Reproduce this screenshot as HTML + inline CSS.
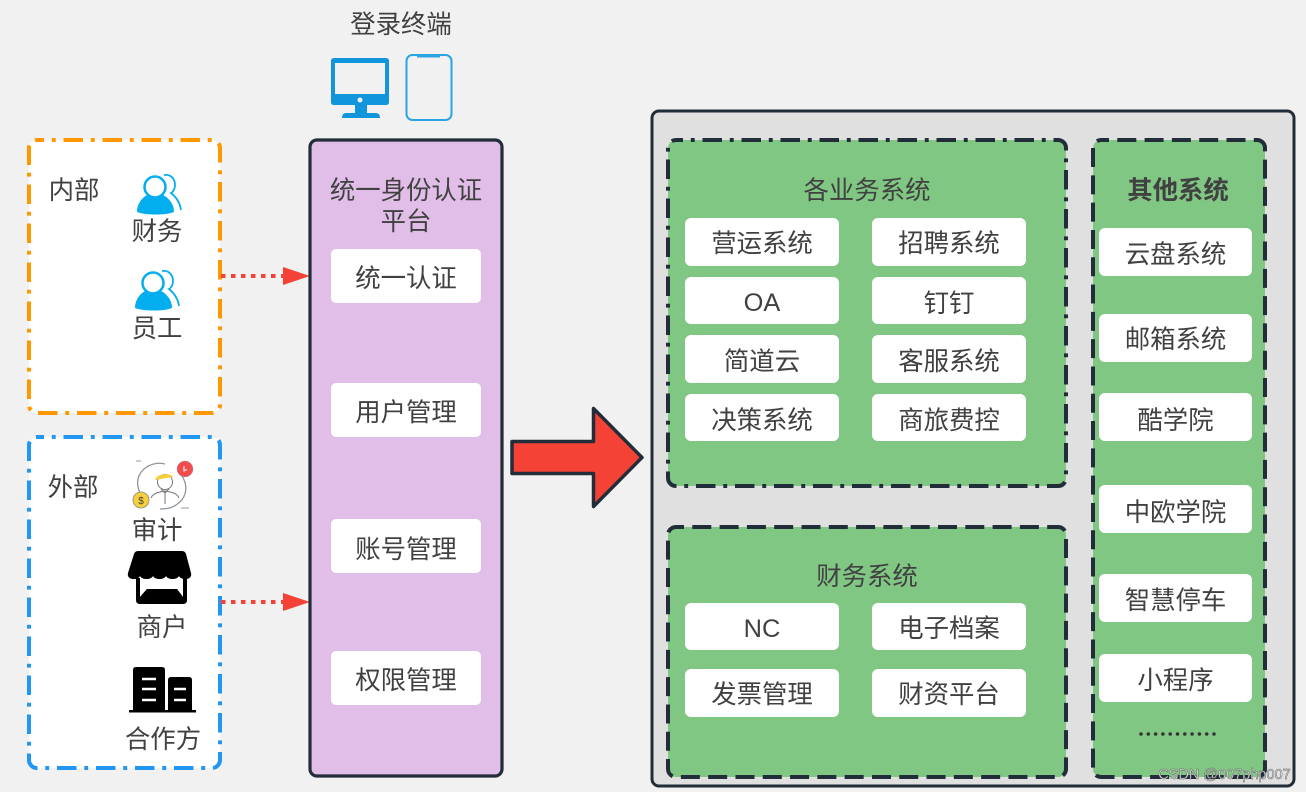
<!DOCTYPE html>
<html lang="zh"><head><meta charset="utf-8"><style>
html,body{margin:0;padding:0;background:#f1f1f1;width:1306px;height:792px;overflow:hidden}
svg{display:block}
text{font-family:"Liberation Sans","Noto Sans CJK SC",sans-serif;font-size:25.4px;fill:#414141;text-anchor:middle}
.c{fill:#fff;stroke:none}
.d{stroke-dasharray:19.500 7.800 3.900 7.800;stroke-dashoffset:12.500;stroke-width:4}
.e{stroke-dasharray:19 8.300;stroke-dashoffset:11;stroke-width:4}
</style></head><body>
<svg width="1306" height="792" viewBox="0 0 1306 792" xmlns="http://www.w3.org/2000/svg">
<rect width="1306" height="792" fill="#f1f1f1"/>
<!-- left groups -->
<rect x="29" y="140" width="191" height="273" rx="8" fill="#fff" stroke="#ff9800" class="d"/>
<rect x="29" y="437" width="191" height="331" rx="8" fill="#fff" stroke="#2196f3" class="d"/>
<text x="74" y="199">内部</text>
<text x="73" y="496">外部</text>
<!-- person icons -->
<g>
<path d="M137 212c0-11 9-19 18-19s19 8 19 19c-5 2-11 2.500-18 2.500s-14-.5-19-2.500z" fill="#03aeef"/>
<circle cx="155" cy="187" r="10.500" fill="#fff" stroke="#03aeef" stroke-width="2.500"/>
<path d="M164 175c8-1 11 5 11 10 0 4-2 7-4 8 5 4 9 10 10 17" fill="none" stroke="#03aeef" stroke-width="1.800"/>
</g>
<g transform="translate(-2 96)">
<path d="M137 212c0-11 9-19 18-19s19 8 19 19c-5 2-11 2.500-18 2.500s-14-.5-19-2.500z" fill="#03aeef"/>
<circle cx="155" cy="187" r="10.500" fill="#fff" stroke="#03aeef" stroke-width="2.500"/>
<path d="M164 175c8-1 11 5 11 10 0 4-2 7-4 8 5 4 9 10 10 17" fill="none" stroke="#03aeef" stroke-width="1.800"/>
</g>
<text x="157" y="240">财务</text>
<text x="157" y="337">员工</text>
<!-- audit icon -->
<path d="M148 502c-12-9-14-24-4-33 6-5 14-7 21-5M182 476c7 11 4 23-6 29-4 3-10 4-16 4" fill="none" stroke="#8f989d" stroke-width="1.300"/>
<circle cx="165" cy="482" r="7.500" fill="#fff" stroke="#777" stroke-width="1"/>
<path d="M155 480c1-6 15-8 18-3z" fill="#f5cf3c"/>
<path d="M151 498c2-5 8-6 14-7 6 1 12 2 14 7M165 491v13M161 489l4 4 4-4" fill="none" stroke="#777" stroke-width="1"/>
<circle cx="141" cy="500" r="8" fill="#f5cf3c" stroke="#888" stroke-width=".8"/>
<text x="141" y="504" style="font-size:10px;fill:#444">$</text>
<circle cx="185" cy="469" r="8" fill="#f44c4c" stroke="#999" stroke-width=".5"/>
<path d="M184 466v5l3-1.500" stroke="#fff" fill="none"/>
<path d="M136 461h5M181 508h8" stroke="#999"/>
<text x="157" y="539">审计</text>
<!-- shop icon -->
<path d="M136 578h51v22q0 4-4 4h-43q-4 0-4-4z" fill="#000"/>
<path d="M140 576h43v21l-6-8h-30l-7 8z" fill="#fff"/>
<path d="M147 589h30l6 8h-43z" fill="#000"/>
<path d="M141 551h41q3 0 4 3l5 19c1 4-2 6-5 6-4 0-6-1-7-3-2 4-11 4-13 0-2 4-11 4-13 0-2 4-11 4-13 0-1 2-3 3-7 3-3 0-6-2-5-6l6-19q1-3 4-3z" fill="#000"/>
<text x="162" y="636">商户</text>
<!-- partner icon -->
<path d="M133 670q0-3 3-3h26q3 0 3 3v40h3v-30q0-3 3-3h18q3 0 3 3v30h4v2.500h-67v-2.500h4z" fill="#000"/>
<path d="M142 679h14M142 689h14M142 700h14M174 689h12M174 700h12" stroke="#fff" stroke-width="2.500"/>
<text x="163" y="748">合作方</text>
<!-- dotted arrows -->
<path d="M221 276h66" stroke="#f44336" stroke-width="4" stroke-dasharray="4.500 5.500" fill="none"/>
<path d="M283 267l27 9-27 9z" fill="#f44336"/>
<path d="M221 602h66" stroke="#f44336" stroke-width="4" stroke-dasharray="4.500 5.500" fill="none"/>
<path d="M283 593l27 9-27 9z" fill="#f44336"/>
<!-- terminals -->
<text x="401" y="33">登录终端</text>
<path d="M334 58h52q3 0 3 3v41q0 3-3 3h-19v8h9q4 0 4 5h-38q0-5 4-5h9v-8h-21q-3 0-3-3v-41q0-3 3-3z" fill="#1296db"/>
<rect x="335" y="63" width="50" height="31" fill="#f1f1f1"/>
<circle cx="360" cy="100" r="2.500" fill="#f1f1f1"/>
<rect x="406.500" y="55" width="45" height="65" rx="6" fill="none" stroke="#29a5e3" stroke-width="2"/>
<path d="M417 56h23v1.500h-23z" fill="#29a5e3"/>
<!-- purple -->
<rect x="310" y="140" width="192" height="636" rx="7" fill="#e1bee7" stroke="#212d38" stroke-width="3.200"/>
<text x="406" y="199">统一身份认证</text>
<text x="406" y="230">平台</text>
<rect class="c" x="331" y="249" width="150" height="54" rx="5"/><text x="406" y="287">统一认证</text>
<rect class="c" x="331" y="383" width="150" height="54" rx="5"/><text x="406" y="421">用户管理</text>
<rect class="c" x="331" y="519" width="150" height="54" rx="5"/><text x="406" y="558">账号管理</text>
<rect class="c" x="331" y="651" width="150" height="54" rx="5"/><text x="406" y="689">权限管理</text>
<!-- big arrow -->
<path d="M512 441.500h81.500v-33l48.500 49-48.500 49v-33h-81.500z" fill="#f44336" stroke="#212d38" stroke-width="3.500" stroke-linejoin="round"/>
<!-- outer -->
<rect x="652" y="111" width="642" height="675" rx="7" fill="#e0e0e0" stroke="#212d38" stroke-width="3"/>
<rect x="668" y="140" width="398" height="346" rx="8" fill="#81c784" stroke="#212d38" class="d"/>
<rect x="668" y="527" width="398" height="250" rx="8" fill="#81c784" stroke="#212d38" class="e"/>
<rect x="1093" y="140" width="172" height="637" rx="8" fill="#81c784" stroke="#212d38" class="e"/>
<text x="867" y="199">各业务系统</text>
<text x="867" y="585">财务系统</text>
<text x="1178" y="199" style="font-weight:700">其他系统</text>
<!-- business -->
<rect class="c" x="685" y="218" width="154" height="48" rx="6"/><text x="762" y="252">营运系统</text>
<rect class="c" x="872" y="218" width="154" height="48" rx="6"/><text x="949" y="252">招聘系统</text>
<rect class="c" x="685" y="277" width="154" height="47" rx="6"/><text x="762" y="311">OA</text>
<rect class="c" x="872" y="277" width="154" height="47" rx="6"/><text x="949" y="312">钉钉</text>
<rect class="c" x="685" y="335" width="154" height="48" rx="6"/><text x="762" y="370">简道云</text>
<rect class="c" x="872" y="335" width="154" height="48" rx="6"/><text x="949" y="370">客服系统</text>
<rect class="c" x="685" y="394" width="154" height="47" rx="6"/><text x="762" y="429">决策系统</text>
<rect class="c" x="872" y="394" width="154" height="47" rx="6"/><text x="949" y="429">商旅费控</text>
<!-- finance -->
<rect class="c" x="685" y="603" width="154" height="47" rx="6"/><text x="762" y="637">NC</text>
<rect class="c" x="872" y="603" width="154" height="47" rx="6"/><text x="949" y="637">电子档案</text>
<rect class="c" x="685" y="669" width="154" height="48" rx="6"/><text x="762" y="703">发票管理</text>
<rect class="c" x="872" y="669" width="154" height="48" rx="6"/><text x="949" y="703">财资平台</text>
<!-- other -->
<rect class="c" x="1099" y="228" width="153" height="48" rx="6"/><text x="1175.500" y="263">云盘系统</text>
<rect class="c" x="1099" y="314" width="153" height="48" rx="6"/><text x="1175.500" y="348">邮箱系统</text>
<rect class="c" x="1099" y="393" width="153" height="48" rx="6"/><text x="1175.500" y="429">酷学院</text>
<rect class="c" x="1099" y="485" width="153" height="48" rx="6"/><text x="1175.500" y="521">中欧学院</text>
<rect class="c" x="1099" y="574" width="153" height="48" rx="6"/><text x="1175.500" y="609">智慧停车</text>
<rect class="c" x="1099" y="654" width="153" height="48" rx="6"/><text x="1175.500" y="689">小程序</text>
<path d="M1141 734h77" stroke="#333" stroke-width="3.500" stroke-linecap="round" stroke-dasharray="0 7.300" fill="none"/>
<!-- watermark -->
<text x="1224.500" y="779" style="font-size:14.500px;fill:#e8e8e8;stroke:#555;stroke-width:.45">CSDN @007php007</text>
</svg>
</body></html>
